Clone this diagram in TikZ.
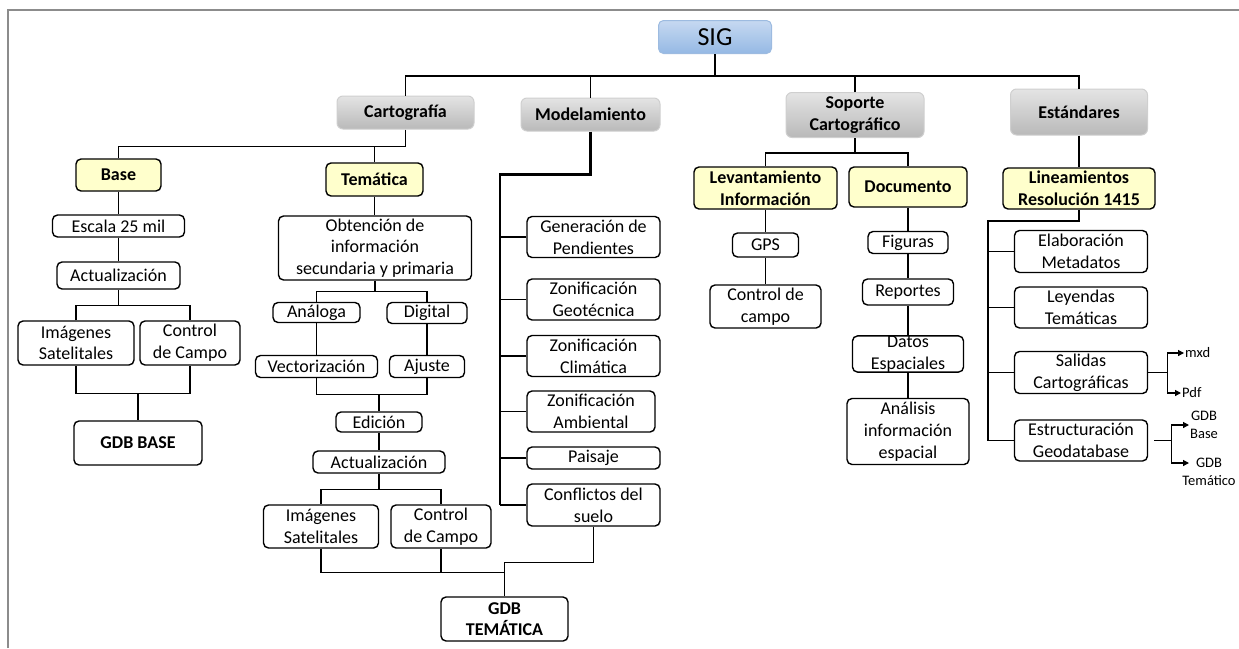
\documentclass[tikz,border=0pt]{standalone}
\usepackage{fontspec}
\setmainfont{Carlito}
\usepackage{tikz}
\usetikzlibrary{arrows.meta}

\definecolor{sigtop}{HTML}{C6D9F1}
\definecolor{sigbot}{HTML}{95B8E4}
\definecolor{sigline}{HTML}{9DBBE0}
\definecolor{graytop}{HTML}{E4E4E4}
\definecolor{graybot}{HTML}{B9B9B9}
\definecolor{grayline}{HTML}{CFCFCF}
\definecolor{yellowfill}{HTML}{FFFFCC}
\definecolor{framegray}{HTML}{8C8C8C}

\begin{document}
\begin{tikzpicture}[x=1pt,y=-1pt,>={Triangle[length=6pt,width=6pt]},
  sz/.style 2 args={minimum width=#1,minimum height=#2},
  root node/.style={rounded corners=5pt,draw=sigline,line width=1pt,top color=sigtop,bottom color=sigbot,
    font=\fontsize{26}{28}\selectfont,inner sep=0pt},
  cat node/.style={rounded corners=6pt,draw=grayline,line width=1pt,top color=graytop,bottom color=graybot,
    align=center,font=\fontsize{18}{21.7}\selectfont\bfseries,inner sep=0pt},
  sub node/.style={rounded corners=5pt,draw,line width=1.4pt,fill=yellowfill,
    align=center,font=\fontsize{18}{21.7}\selectfont\bfseries,inner sep=0pt},
  leaf node/.style={rounded corners=5pt,draw,line width=1.4pt,fill=white,
    align=center,font=\fontsize{18}{21.7}\selectfont,inner sep=0pt},
  tag node/.style={align=center,font=\fontsize{14.5}{18}\selectfont,inner sep=1pt},
  trunk/.style={line width=2.6pt},
  branch/.style={line width=1.9pt},
  link/.style={line width=1.2pt}]

  \useasboundingbox (0,0) rectangle (1239,648);
  \draw[framegray,line width=2pt] (8,648) -- (8,10) -- (1239,10);

  % top levels
  \node[root node,sz={113}{33}] (sig) at (715,37) {SIG};
  \node[cat node,sz={137}{33}] (cart) at (405.5,112.5) {Cartografía};
  \node[cat node,sz={139}{33}] (model) at (590.5,114.5) {Modelamiento};
  \node[cat node,sz={138}{45}] (soporte) at (855,115) {Soporte\\Cartográfico};
  \node[cat node,sz={137}{46}] (estand) at (1079,112) {Estándares};

  \node[sub node,sz={85}{32}] (base) at (118.5,175) {Base};
  \node[sub node,sz={97}{33}] (tema) at (374.5,179.5) {Temática};
  \node[sub node,sz={143}{42}] (levant) at (765.5,188) {Levantamiento\\Información};
  \node[sub node,sz={118}{40}] (docu) at (908,187) {Documento};
  \node[sub node,sz={152}{41}] (linea) at (1079,188.5) {Lineamientos\\Resolución 1415};

  % base
  \node[leaf node,sz={132}{22}] (escala) at (118.5,226) {Escala 25 mil};
  \node[leaf node,sz={123}{27}] (actb) at (118.5,275.5) {Actualización};
  \node[leaf node,sz={116}{44}] (imgb) at (76,343) {Imágenes\\Satelitales};
  \node[leaf node,sz={100}{44}] (ctrlb) at (190,343) {Control\\de Campo};
  \node[leaf node,sz={128}{44},font=\fontsize{18}{21.7}\selectfont\bfseries] (gdbb) at (138,443) {GDB BASE};

  % tematica
  \node[leaf node,sz={193}{64}] (obten) at (375,248) {Obtención de\\información\\secundaria y primaria};
  \node[leaf node,sz={87}{20}] (analoga) at (316.5,312.5) {Análoga};
  \node[leaf node,sz={80}{21}] (digital) at (427,313) {Digital};
  \node[leaf node,sz={122}{22}] (vector) at (316.5,366.5) {Vectorización};
  \node[leaf node,sz={75}{22}] (ajuste) at (427,366.5) {Ajuste};
  \node[leaf node,sz={86}{20}] (edicion) at (379,422) {Edición};
  \node[leaf node,sz={132}{22}] (actt) at (379,462) {Actualización};
  \node[leaf node,sz={115}{43}] (imgt) at (321,526.5) {Imágenes\\Satelitales};
  \node[leaf node,sz={100}{43}] (ctrlt) at (441,526.5) {Control\\de Campo};
  \node[leaf node,sz={127}{44},font=\fontsize{18}{21.7}\selectfont\bfseries] (gdbt) at (504.5,619) {GDB\\TEMÁTICA};

  % modelamiento
  \node[leaf node,sz={133}{41}] (gener) at (593.5,237) {Generación de\\Pendientes};
  \node[leaf node,sz={133}{41}] (geot) at (593.5,299.5) {Zonificación\\Geotécnica};
  \node[leaf node,sz={133}{41}] (clim) at (593.5,356) {Zonificación\\Climática};
  \node[leaf node,sz={128}{41}] (amb) at (591,411.5) {Zonificación\\Ambiental};
  \node[leaf node,sz={133}{22}] (paisaje) at (593.5,458) {Paisaje};
  \node[leaf node,sz={133}{42}] (confl) at (593.5,505) {Conflictos del\\suelo};

  % soporte cartografico
  \node[leaf node,sz={66}{24}] (gps) at (765.5,245) {GPS};
  \node[leaf node,sz={111}{43}] (ctrlc) at (765.5,306.5) {Control de\\campo};
  \node[leaf node,sz={80}{22}] (figuras) at (908,242.5) {Figuras};
  \node[leaf node,sz={91}{26}] (reportes) at (908,292) {Reportes};
  \node[leaf node,sz={111}{36}] (datos) at (908,354) {Datos\\Espaciales};
  \node[leaf node,sz={122}{66}] (analisis) at (908,431.5) {Análisis\\información\\espacial};

  % estandares
  \node[leaf node,sz={133}{42}] (elab) at (1081,251.5) {Elaboración\\Metadatos};
  \node[leaf node,sz={133}{41}] (leyen) at (1081,307.5) {Leyendas\\Temáticas};
  \node[leaf node,sz={133}{42}] (salidas) at (1081,372.5) {Salidas\\Cartográficas};
  \node[leaf node,sz={133}{41}] (estruc) at (1081,440.5) {Estructuración\\Geodatabase};

  \node[tag node,anchor=west] (mxd) at (1184,353) {mxd};
  \node[tag node,anchor=west] (pdf) at (1181,393) {Pdf};
  \node[tag node,anchor=west] (gbase) at (1189,425) {GDB\\Base};
  \node[tag node] (gtem) at (1209,472) {GDB\\Temático};
  \coordinate (gtip) at (1189,463);

  % connectors
  \draw[trunk] (sig.south) -- ++(0,22) coordinate (top);
  \draw[branch] (cart.north) |- (top) -| (estand.north);
  \draw[trunk] (model.north |- top) -- (soporte.north |- top);
  \draw[branch] (model.north) -- (model.north |- top);
  \draw[branch] (soporte.north) -- (soporte.north |- top);

  \draw[branch] (cart.south) -- ++(0,17) coordinate (cj);
  \draw[branch] (base.north) |- (cj);
  \draw[branch] (cj -| tema.north) -- (tema.north);

  \draw[link] (base) -- (escala) -- (actb);
  \draw[link] (actb.south) -- ++(0,16) coordinate (bj);
  \draw[link] (imgb.north) |- (bj) -| (ctrlb.north);
  \draw[link] (imgb.south) -- ++(0,28) coordinate (bk) -| (ctrlb.south);
  \draw[link] (bk -| gdbb.north) -- (gdbb.north);

  \draw[link] (tema.south) -- (tema.south |- obten.north);
  \draw[link] (obten.south) -- ++(0,11) coordinate (oj);
  \draw[link] (analoga.north) |- (oj) -| (digital.north);
  \draw[link] (analoga) -- (vector);
  \draw[link] (digital) -- (ajuste);
  \draw[link] (vector.south) -- ++(0,16) coordinate (vj) -| (ajuste.south);
  \draw[link] (vj -| edicion.north) -- (edicion.north);
  \draw[link] (edicion) -- (actt);
  \draw[link] (actt.south) -- ++(0,16) coordinate (aj);
  \draw[link] (imgt.north) |- (aj) -| (ctrlt.north);
  \draw[link] (imgt.south) -- ++(0,24) coordinate (ij) -| (ctrlt.south);
  \draw[link] (ij) -| (gdbt.north);
  \draw[link] (confl.south) -- ++(0,36) -| (gdbt.north);

  \draw[trunk] (model.south) -- ++(0,43) -- ++(-90.5,0) coordinate (ms) -- (ms |- confl.west);
  \foreach \n in {gener,geot,clim,amb,paisaje,confl}
    \draw[link] (\n.west) -- (\n.west -| ms);

  \draw[branch] (soporte.south) -- ++(0,15) coordinate (sj);
  \draw[branch] (levant.north) |- (sj) -| (docu.north);
  \draw[link] (levant) -- (gps) -- (ctrlc);
  \draw[link] (docu) -- (figuras) -- (reportes) -- (datos) -- (analisis);

  \draw[branch] (estand) -- (linea);
  \draw[branch] (linea.south) -- ++(0,11) -- ++(-91,0) coordinate (ls) -- (ls |- estruc.west);
  \foreach \n in {elab,leyen,salidas,estruc}
    \draw[link] (\n.west) -- (\n.west -| ls);

  \draw[link] (salidas.east) -- ++(19,0) coordinate (oj2);
  \draw[link,->] (oj2) |- (mxd.west);
  \draw[link,->] (oj2) |- (pdf.west);
  \draw[link,shorten <=6pt] (estruc.east) -- ++(23,0) coordinate (ej);
  \draw[link,->] (ej) |- (gbase.west);
  \draw[link,->] (ej) |- (gtip);
\end{tikzpicture}
\end{document}
